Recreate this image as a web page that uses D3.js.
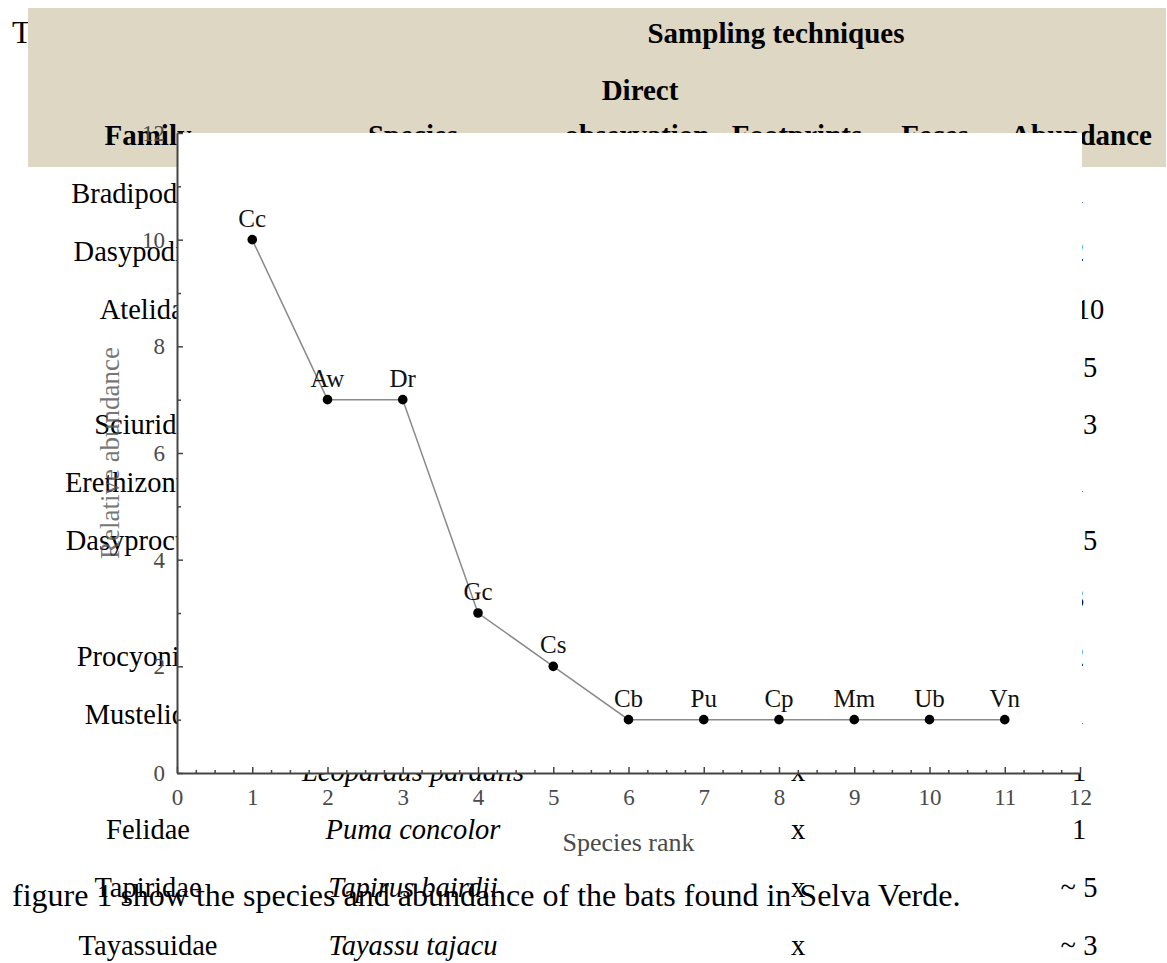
<!DOCTYPE html>
<html>
<head>
<meta charset="utf-8">
<script src="https://cdn.jsdelivr.net/npm/d3@7"></script>
<style>
  html, body { margin: 0; padding: 0; background: #ffffff; }
  svg { display: block; }
  text { font-family: "Liberation Serif", "Times New Roman", serif; }
</style>
</head>
<body>
<script>
// ---------- Chart data (rank-abundance curve) ----------
const ranks      = [1, 2, 3, 4, 5, 6, 7, 8, 9, 10, 11];
const speciesCodes = ["Cc", "Aw", "Dr", "Gc", "Cs", "Cb", "Pu", "Cp", "Mm", "Ub", "Vn"];
const abundanceValues = [10, 7, 7, 3, 2, 1, 1, 1, 1, 1, 1];
const yTickValues = [0, 2, 4, 6, 8, 10, 12];
const yMinorTicks = [1, 3, 5, 7, 9, 11];
const xTickValues = [0, 1, 2, 3, 4, 5, 6, 7, 8, 9, 10, 11, 12];
const xAxisTitle = "Species rank";
const yAxisTitle = "Relative abundance";

// ---------- Background document table ----------
const headerTop = "Sampling techniques";
const headerDirect = "Direct";
const headerCols = ["Family", "Species", "observation", "Footprints", "Feces", "Abundance"];
const tableFamilies = ["Bradipodidae", "Dasypodidae", "Atelidae", "", "Sciuridae", "Erethizontidae",
  "Dasyproctidae", "", "Procyonidae", "Mustelidae", "", "Felidae", "Tapiridae", "Tayassuidae"];
const tableSpecies = ["Bradypus variegatus", "Dasypus novemcinctus", "Alouatta palliata", "Ateles geoffroyi",
  "Sciurus variegatoides", "Coendou mexicanus", "Dasyprocta punctata", "Cuniculus paca", "Nasua narica",
  "Eira barbara", "Leopardus pardalis", "Puma concolor", "Tapirus bairdii", "Tayassu tajacu"];
const tableDirect     = ["x", "", "x", "x", "x", "", "x", "", "x", "", "", "", "", ""];
const tableFootprints = ["", "x", "", "", "", "x", "x", "x", "x", "x", "x", "x", "x", "x"];
const tableFeces      = ["", "", "x", "", "", "", "", "", "", "", "", "", "", ""];
const tableAbundance  = ["1", "2", "10", "5", "3", "1", "5", "3", "2", "1", "1", "1", "~ 5", "~ 3"];
const titleText = "Table 1.";
const captionText = "figure 1 show the species and abundance of the bats found in Selva Verde.";

const W = 1167, H = 963;
const svg = d3.select("body").append("svg").attr("width", W).attr("height", H);
svg.append("rect").attr("width", W).attr("height", H).attr("fill", "#ffffff");

// ----- document layer -----
const doc = svg.append("g");
doc.append("text").attr("x", 12).attr("y", 43).attr("font-size", 32).attr("fill", "#000").text(titleText);
doc.append("rect").attr("x", 28).attr("y", 8).attr("width", 1138).attr("height", 159).attr("fill", "#ddd7c3");

const bold = { "font-size": 29, "font-weight": "bold", fill: "#000", "text-anchor": "middle" };
function addText(g, x, y, str, attrs) {
  const t = g.append("text").attr("x", x).attr("y", y).text(str);
  Object.entries(attrs).forEach(([k, v]) => t.attr(k, v));
  return t;
}
addText(doc, 776, 43, headerTop, bold);
addText(doc, 640, 100, headerDirect, bold);
const colX = [148, 413, 637, 797, 935, 1081];
headerCols.forEach((h, i) => addText(doc, colX[i], 145, h, bold));

const rowY = d3.scaleLinear().domain([0, tableSpecies.length - 1]).range([203, 955]);
const body = { "font-size": 28.5, fill: "#000", "text-anchor": "middle" };
// rows whose abundance figure sits further right in the source document
const shiftedAbundanceRows = new Set([2, 3, 4, 6]);
tableSpecies.forEach((sp, i) => {
  const y = rowY(i);
  if (tableFamilies[i]) addText(doc, 148, y, tableFamilies[i], body);
  addText(doc, 413, y, sp, Object.assign({}, body, { "font-style": "italic" }));
  if (tableDirect[i]) addText(doc, 638, y, tableDirect[i], body);
  if (tableFootprints[i]) addText(doc, 798, y, tableFootprints[i], body);
  if (tableFeces[i]) addText(doc, 935, y, tableFeces[i], body);
  const ax = shiftedAbundanceRows.has(i) ? 1090 : (i < 10 ? 1077 : 1079);
  addText(doc, ax, y, tableAbundance[i], body);
});
doc.append("text").attr("x", 12).attr("y", 906).attr("font-size", 32).attr("fill", "#000").text(captionText);

// ----- chart layer -----
const x = d3.scaleLinear().domain([0, 12]).range([177, 1080]);
const y = d3.scaleLinear().domain([0, 12]).range([773, 133]);
const chart = svg.append("g");

chart.append("rect")
  .attr("x", x(0)).attr("y", y(12))
  .attr("width", x(12) - x(0) + 2).attr("height", y(0) - y(12))
  .attr("fill", "#ffffff");

const axisColor = "#444";
const labelColor = "#4a4a4a";
const serif = "'Liberation Serif', 'Times New Roman', serif";

// minor ticks
const xMinor = [];
for (let v = 0; v <= 12; v += 0.25) if (Math.abs(v - Math.round(v)) > 1e-6) xMinor.push(v);
chart.append("g").attr("transform", `translate(0,${y(0)})`)
  .call(d3.axisBottom(x).tickValues(xMinor).tickSize(-3).tickSizeOuter(0).tickFormat(""))
  .call(g => g.select(".domain").remove())
  .call(g => g.selectAll("line").attr("stroke", axisColor).attr("stroke-width", 1.5));
chart.append("g").attr("transform", `translate(${x(0)},0)`)
  .call(d3.axisLeft(y).tickValues(yMinorTicks).tickSize(-4).tickSizeOuter(0).tickFormat(""))
  .call(g => g.select(".domain").remove())
  .call(g => g.selectAll("line").attr("stroke", axisColor).attr("stroke-width", 1.5));

// major axes
chart.append("g").attr("transform", `translate(0,${y(0)})`)
  .call(d3.axisBottom(x).tickValues(xTickValues).tickSize(-6).tickSizeOuter(0).tickPadding(16).tickFormat(d3.format("d")))
  .call(g => g.select(".domain").attr("stroke", axisColor).attr("stroke-width", 2))
  .call(g => g.selectAll("line").attr("stroke", axisColor).attr("stroke-width", 1.5))
  .call(g => g.selectAll("text").attr("fill", labelColor).attr("font-size", 23).attr("font-family", serif));
chart.append("g").attr("transform", `translate(${x(0)},0)`)
  .call(d3.axisLeft(y).tickValues(yTickValues).tickSize(-6).tickSizeOuter(0).tickPadding(12).tickFormat(d3.format("d")))
  .call(g => g.select(".domain").attr("stroke", axisColor).attr("stroke-width", 2))
  .call(g => g.selectAll("line").attr("stroke", axisColor).attr("stroke-width", 1.5))
  .call(g => g.selectAll("text").attr("fill", labelColor).attr("font-size", 23).attr("font-family", serif));

// axis titles
chart.append("text").attr("x", (x(0) + x(12)) / 2).attr("y", 851)
  .attr("text-anchor", "middle").attr("font-size", 26).attr("fill", labelColor).text(xAxisTitle);
chart.append("text").attr("transform", `translate(119,${y(6)}) rotate(-90)`)
  .attr("text-anchor", "middle").attr("font-size", 27).attr("fill", "#555").attr("opacity", 0.8).text(yAxisTitle);

// series
const pts = ranks.map((r, i) => ({ r, v: abundanceValues[i], code: speciesCodes[i] }));
chart.append("path").datum(pts)
  .attr("fill", "none").attr("stroke", "#8a8a8a").attr("stroke-width", 1.5)
  .attr("d", d3.line().x(d => x(d.r)).y(d => y(d.v)));
chart.selectAll("circle.pt").data(pts).join("circle")
  .attr("cx", d => x(d.r)).attr("cy", d => y(d.v)).attr("r", 4.8).attr("fill", "#000");
chart.selectAll("text.lab").data(pts).join("text")
  .attr("x", d => x(d.r)).attr("y", d => y(d.v) - 13)
  .attr("text-anchor", "middle").attr("font-size", 25).attr("fill", "#111").text(d => d.code);
</script>
</body>
</html>
